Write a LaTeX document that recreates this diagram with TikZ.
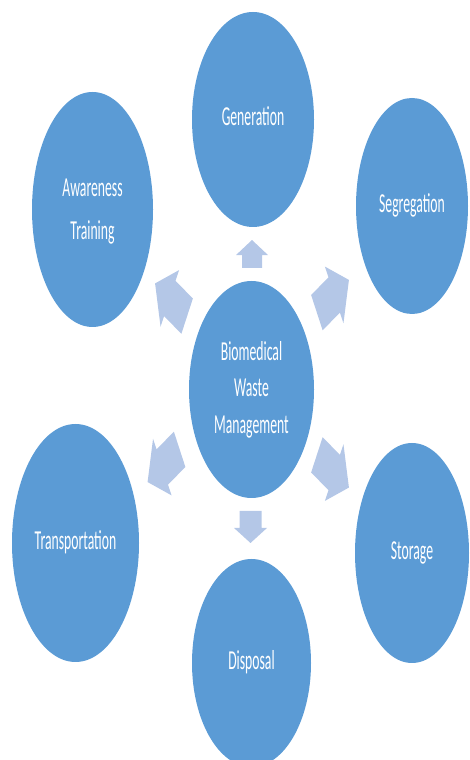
\documentclass[tikz,border=0pt]{standalone}
\usepackage{fontspec}
\setmainfont{Carlito}
\usepackage{graphicx}
\usepackage{tikz}
\usetikzlibrary{shapes.geometric}
\definecolor{bubblec}{HTML}{5B9BD5}
\definecolor{arrowc}{HTML}{B4C7E7}
% tall, narrow label text (lines stacked in a tabular)
\newcommand{\tall}[1]{\scalebox{1}[2.0]{\begin{tabular}{@{}c@{}}#1\end{tabular}}}
% block arrow: centre, angle, half length, head length, shaft/head half widths
\newcommand{\radarrow}[6]{%
  \fill[arrowc, shift={#1}, yscale=1.77, rotate=#2]
    (#3,0) -- ({#3-#4},#6) -- ({#3-#4},#5) -- (-#3,#5) -- (-#3,-#5)
    -- ({#3-#4},-#5) -- ({#3-#4},-#6) -- cycle;}
\tikzset{bubble/.style={ellipse, fill=bubblec, text=white, inner sep=0pt,
  font=\fontsize{13.7}{15.5}\selectfont}}

\begin{document}
\begin{tikzpicture}[x=1pt, y=1pt]
  \useasboundingbox (0,0) rectangle (469,760);
  \clip (0,0) rectangle (469,760);
  \node[bubble, minimum width=125, minimum height=217,
        font=\fontsize{13.7}{18.25}\selectfont] (cen) at (251.5,370.5)
        {\tall{Biomedical\\Waste\\Management}};
  \node[bubble, minimum width=122, minimum height=215] (gen) at (253,640.5) {\tall{Generation}};
  \node[bubble, minimum width=112, minimum height=216] (seg) at (412,554) {\tall{Segregation}};
  \node[bubble, minimum width=114, minimum height=220] (sto) at (412,207) {\tall{Storage}};
  \node[bubble, minimum width=119, minimum height=208] (dis) at (251.5,97) {\tall{Disposal}};
  \node[bubble, minimum width=127, minimum height=238] (tra) at (75.5,217) {\tall{Transportation}};
  \node[bubble, minimum width=121, minimum height=235,
        font=\fontsize{13.7}{21.5}\selectfont] (awa) at (92.5,550.5)
        {\tall{Awareness\\Training}};
  % arrows out of the centre
  \radarrow{(252,506)}{90}{7.9}{8.5}{10}{16}
  \radarrow{(250.5,233)}{-90}{9.04}{8.5}{11}{16.5}
  \radarrow{(332.9,463.7)}{30}{18.5}{17}{11.5}{18.5}
  \radarrow{(171.1,460.2)}{150}{18.5}{17}{11.5}{18.5}
  \radarrow{(163.6,294.3)}{210}{18.5}{17}{11.5}{18.5}
  \radarrow{(332.9,288.8)}{-30}{18.5}{17}{11.5}{18.5}
\end{tikzpicture}
\end{document}
